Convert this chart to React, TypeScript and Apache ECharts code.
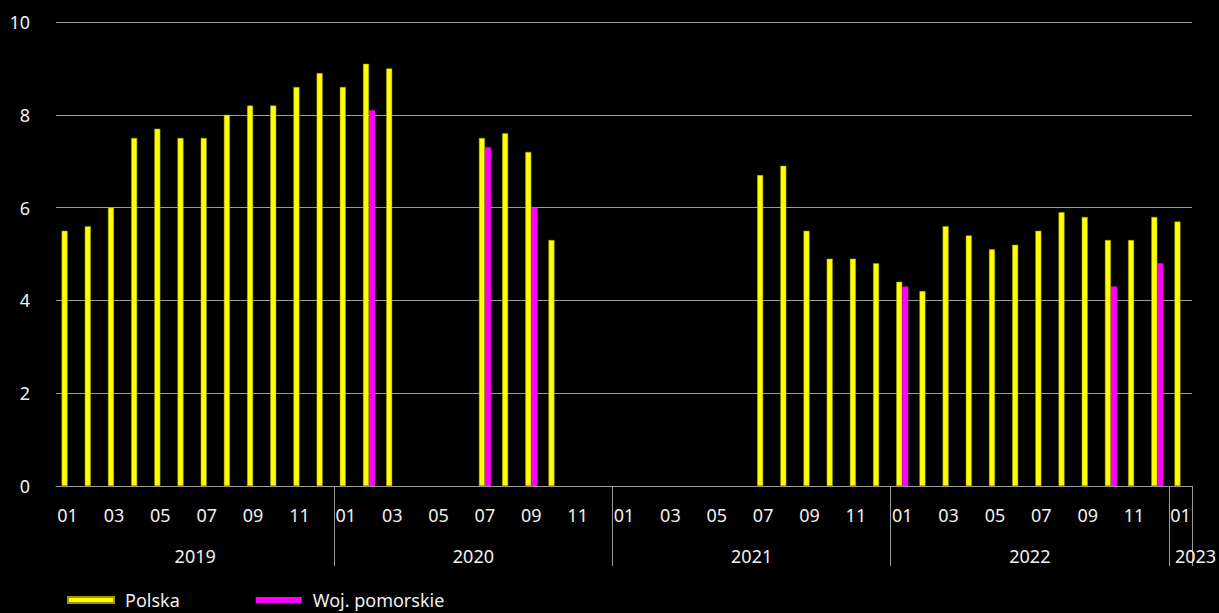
import React, { useEffect, useRef } from "react";
import * as echarts from "echarts";

const months: string[] = [];
for (let y = 2019; y <= 2023; y++) {
  for (let m = 1; m <= 12; m++) {
    if (y === 2023 && m > 1) break;
    months.push(`${y}-${String(m).padStart(2, "0")}`);
  }
}

const polska: (number | null)[] = [
  5.5, 5.6, 6.0, 7.5, 7.7, 7.5, 7.5, 8.0, 8.2, 8.2, 8.6, 8.9,
  8.6, 9.1, 9.0, null, null, null, 7.5, 7.6, 7.2, 5.3, null, null,
  null, null, null, null, null, null, 6.7, 6.9, 5.5, 4.9, 4.9, 4.8,
  4.4, 4.2, 5.6, 5.4, 5.1, 5.2, 5.5, 5.9, 5.8, 5.3, 5.3, 5.8,
  5.7,
];

const pomorskie: (number | null)[] = [
  null, null, null, null, null, null, null, null, null, null, null, null,
  null, 8.1, null, null, null, null, 7.3, null, 6.0, null, null, null,
  null, null, null, null, null, null, null, null, null, null, null, null,
  4.3, null, null, null, null, null, null, null, null, 4.3, null, 4.8,
  null,
];

const yearLabelIdx: Record<number, string> = { 6: "l", 18: "l", 30: "l", 42: "l", 48: "r" };

const FONT = "Noto Sans";
const TXT = "#f0f0f0";
const GRID = "#9a9a9a";

export default function App() {
  const ref = useRef<HTMLDivElement>(null);
  useEffect(() => {
    if (!ref.current) return;
    const chart = echarts.init(ref.current, null, { renderer: "svg" });
    chart.setOption({
      animation: false,
      backgroundColor: "#000000",
      textStyle: { fontFamily: FONT },
      grid: { left: 56, right: 21, top: 22, bottom: 127, containLabel: false },
      legend: {
        left: 62,
        top: 586,
        itemWidth: 46,
        itemHeight: 6,
        itemGap: 76,
        icon: "rect",
        textStyle: { color: TXT, fontSize: 18, fontFamily: FONT, padding: [0, 0, 0, 6] },
        data: ["Polska", "Woj. pomorskie"],
      },
      xAxis: [
        {
          type: "category",
          data: months,
          position: "bottom",
          boundaryGap: true,
          axisLine: { show: true, lineStyle: { color: GRID, width: 1 } },
          axisTick: {
            show: true,
            length: 80,
            interval: (i: number) => i > 0 && i % 12 === 0,
            lineStyle: { color: GRID, width: 1 },
          },
          axisLabel: {
            interval: 1,
            color: TXT,
            fontSize: 18,
            fontFamily: FONT,
            margin: 20,
            formatter: (v: string) => v.slice(5),
          },
        },
        {
          type: "category",
          data: months,
          position: "bottom",
          boundaryGap: true,
          axisLine: { show: false },
          axisTick: { show: false },
          axisLabel: {
            interval: 0,
            color: TXT,
            fontSize: 18,
            fontFamily: FONT,
            margin: 61,
            formatter: (v: string, i: number) => {
              const k = yearLabelIdx[i];
              return k ? `{${k}|${v.slice(0, 4)}}` : "";
            },
            rich: {
              l: { color: TXT, fontSize: 18, fontFamily: FONT, padding: [0, 23, 0, 0] },
              r: { color: TXT, fontSize: 18, fontFamily: FONT, padding: [0, 0, 0, 30] },
            },
          },
        },
      ],
      yAxis: {
        type: "value",
        min: 0,
        max: 10,
        interval: 2,
        axisLine: { show: false },
        axisTick: { show: false },
        axisLabel: { color: TXT, fontSize: 18, fontFamily: FONT, margin: 26 },
        splitLine: { lineStyle: { color: GRID, width: 1 } },
      },
      series: [
        {
          name: "Polska",
          type: "bar",
          data: polska,
          barWidth: 6,
          barGap: "0%",
          itemStyle: { color: "#ffff00", borderColor: "#9a9a00", borderWidth: 0.5 },
        },
        {
          name: "Woj. pomorskie",
          type: "bar",
          data: pomorskie,
          barWidth: 6,
          barGap: "0%",
          itemStyle: { color: "#ff00ff" },
        },
      ],
    });
    return () => chart.dispose();
  }, []);
  return (
    <div
      ref={ref}
      style={{ position: "fixed", left: 0, top: 0, width: 1219, height: 613, background: "#000" }}
    />
  );
}
